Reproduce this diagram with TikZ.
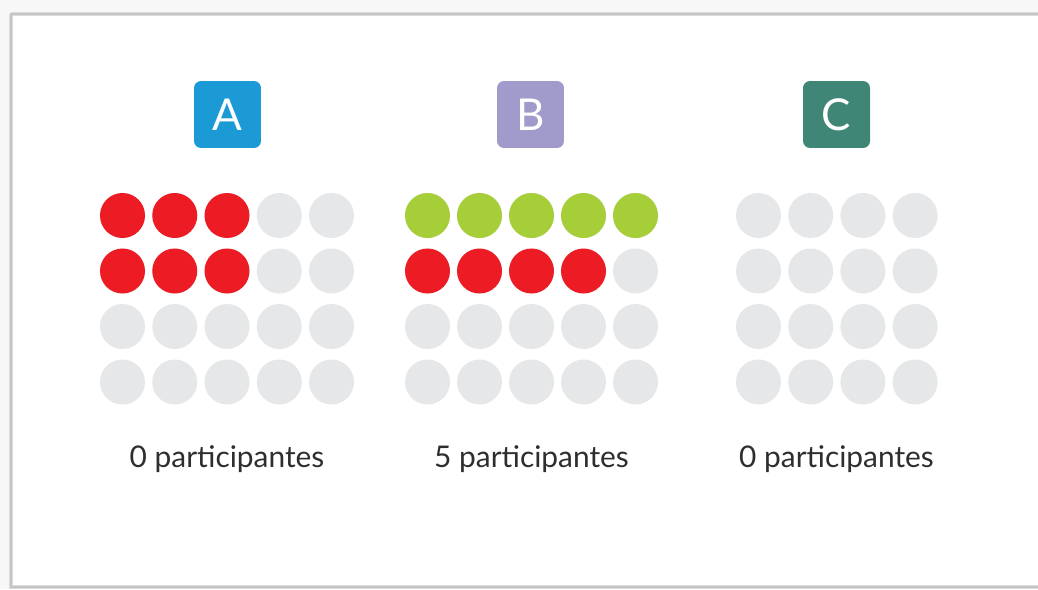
\documentclass[tikz,border=0pt]{standalone}
\usepackage{fontspec}
\setmainfont{Lato}
\usepackage{xcolor}
\definecolor{tabA}{HTML}{1B9AD6}
\definecolor{tabB}{HTML}{A19BCC}
\definecolor{tabC}{HTML}{3F8676}
\definecolor{seatred}{HTML}{ED1C24}
\definecolor{seatgreen}{HTML}{A6CE39}
\definecolor{seatgray}{HTML}{E6E7E8}
\definecolor{txt}{HTML}{2E2E2E}
\definecolor{frame}{HTML}{C4C4C4}

\begin{document}
\begin{tikzpicture}[x=0.02cm, y=-0.02cm,
    tab/.style={minimum size=1.34cm, rounded corners=0.14cm, inner sep=0pt,
        text=white, font=\fontsize{25}{25}\selectfont},
    count/.style={anchor=base, text=txt, font=\fontsize{17}{17}\selectfont}]
\useasboundingbox[fill=white!97!black] (0,0) rectangle (1038,589);

% card frame
\fill[white] (11,14) rectangle (1060,587);
\draw[frame!60, line width=2.5pt] (11,14) -- (1060,14);
\draw[frame!60, line width=2.5pt] (11,14) -- (11,587) -- (1060,587);
\draw[frame, line width=1pt] (1060,14) -- (11,14) -- (11,587) -- (1060,587);

% Group A
\node[tab, fill=tabA] (tabA) at (227.5, 114.5) {A};
\foreach \c in {0,...,4} \foreach \r in {0,...,3}
    \fill[seatgray] (122.5+\c*52.25, 215.5+\r*55.5) circle (22.5);
\foreach \c in {0,1,2} \foreach \r in {0,1}
    \fill[seatred] (122.5+\c*52.25, 215.5+\r*55.5) circle (22.5);
\node[count] (countA) at (227, 467) {0 participantes};

% Group B
\node[tab, fill=tabB] (tabB) at (530.5, 114.5) {B};
\foreach \c in {0,...,4} \foreach \r in {0,...,3}
    \fill[seatgray] (427.5+\c*52, 215.5+\r*55.5) circle (22.5);
\foreach \c in {0,...,4}
    \fill[seatgreen] (427.5+\c*52, 215.5) circle (22.5);
\foreach \c in {0,...,3}
    \fill[seatred] (427.5+\c*52, 271) circle (22.5);
\node[count] (countB) at (531.5, 467) {5 participantes};

% Group C
\node[tab, fill=tabC] (tabC) at (836.5, 114.5) {C};
\foreach \c in {0,...,3} \foreach \r in {0,...,3}
    \fill[seatgray] (758.5+\c*52.2, 215.5+\r*55.5) circle (22.5);
\node[count] (countC) at (836.5, 467) {0 participantes};
\end{tikzpicture}
\end{document}
